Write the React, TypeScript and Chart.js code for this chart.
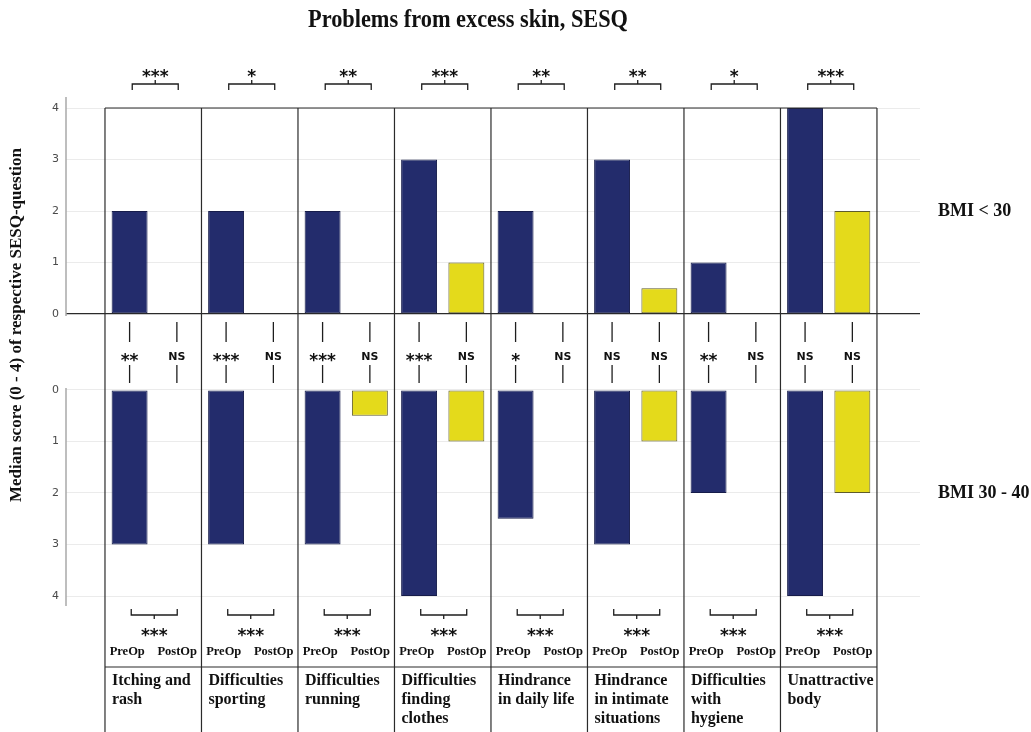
import React, { useEffect, useRef } from "react";
import { Chart, registerables } from "chart.js";

Chart.register(...registerables);

// ---- data ----
const categoryLines: string[][] = [
  ["Itching and", "rash"],
  ["Difficulties", "sporting"],
  ["Difficulties", "running"],
  ["Difficulties", "finding", "clothes"],
  ["Hindrance", "in daily life"],
  ["Hindrance", "in intimate", "situations"],
  ["Difficulties", "with", "hygiene"],
  ["Unattractive", "body"],
];
const preOpBmiUnder30 = [2, 2, 2, 3, 2, 3, 1, 4];
const postOpBmiUnder30 = [0, 0, 0, 1, 0, 0.5, 0, 2];
const preOpBmi30to40 = [3, 3, 3, 4, 2.5, 3, 2, 4];
const postOpBmi30to40 = [0, 0, 0.5, 1, 0, 1, 0, 2];
const sigPrePostUnder30 = ["***", "*", "**", "***", "**", "**", "*", "***"];
const sigPrePost30to40 = ["***", "***", "***", "***", "***", "***", "***", "***"];
const sigPreOpBetweenGroups = ["**", "***", "***", "***", "*", "NS", "**", "NS"];
const sigPostOpBetweenGroups = ["NS", "NS", "NS", "NS", "NS", "NS", "NS", "NS"];
const scoreTicks = [0, 1, 2, 3, 4];
const panelLabels = ["BMI < 30", "BMI 30 - 40"];
const groupLabels = ["PreOp", "PostOp"];
const chartTitle = "Problems from excess skin, SESQ";
const yAxisTitle = "Median score (0 - 4) of respective SESQ-question";

// ---- look ----
const WIDTH = 1031;
const HEIGHT = 732;
const GAP = 0.7375; // score units between each panel's zero line and the shared middle
const X_MIN = -0.904;
const X_MAX = 7.946;
const CAT_PCT = 0.98;
const BAR_PCT = 0.76;
const BAR_OFFSET = CAT_PCT / 4;
const NAVY = "#232c6c";
const NAVY_EDGE = "#161c4a";
const YELLOW = "#e4da1b";
const YELLOW_EDGE = "#5e5b2c";
const SERIF = '"Liberation Serif", "Times New Roman", serif';
const SANS = '"DejaVu Sans", sans-serif';

const toPoints = (vals: number[]) =>
  vals.map((v, i) => ({ x: i, y: v === 0 ? null : v }));

const yScale = (reverse: boolean) => ({
  type: "linear" as const,
  position: "left" as const,
  stack: "panels",
  stackWeight: 1,
  reverse,
  min: -GAP,
  max: 4,
  afterBuildTicks: (s: any) => {
    s.ticks = scoreTicks.map((v) => ({ value: v }));
  },
  afterFit: (s: any) => {
    s.width = 66;
  },
  border: { display: false },
  grid: {
    drawTicks: false,
    lineWidth: (c: any) => (!reverse && c.tick && c.tick.value === 0 ? 1.3 : 1),
    color: (c: any) =>
      !reverse && c.tick && c.tick.value === 0 ? "#2a2a2a" : "#ebebeb",
  },
  ticks: {
    padding: 7,
    color: "#4a4a4a",
    font: { family: SANS, size: 11 },
  },
});

const sesqAnnotations = {
  id: "sesqAnnotations",
  afterDraw(chart: any) {
    const ctx: CanvasRenderingContext2D = chart.ctx;
    const xs = chart.scales.x;
    const yT = chart.scales.yTop;
    const yB = chart.scales.yBot;
    const n = categoryLines.length;
    const colCenter = (i: number) => xs.getPixelForValue(i);
    const colLeft = (i: number) => xs.getPixelForValue(i - 0.5);
    const preX = (i: number) => xs.getPixelForValue(i - BAR_OFFSET);
    const postX = (i: number) => xs.getPixelForValue(i + BAR_OFFSET);
    const yFour = yT.getPixelForValue(4);
    const yTopZero = yT.getPixelForValue(0);
    const yBotZero = yB.getPixelForValue(0);
    const yBotFour = yB.getPixelForValue(4);
    const left = colLeft(0);
    const right = colLeft(n);

    const line = (x1: number, y1: number, x2: number, y2: number) => {
      ctx.beginPath();
      ctx.moveTo(x1, y1);
      ctx.lineTo(x2, y2);
      ctx.stroke();
    };

    ctx.save();

    // value axis lines
    const axisX = chart.chartArea.left;
    ctx.strokeStyle = "#a8a8a8";
    ctx.lineWidth = 1.5;
    line(axisX, yFour - 11, axisX, yTopZero + 2);
    line(axisX, yBotZero - 2, axisX, yBotFour + 10);

    // column frame
    ctx.strokeStyle = "#2b2b2b";
    ctx.lineWidth = 1.2;
    for (let i = 0; i <= n; i++) line(colLeft(i), yFour, colLeft(i), HEIGHT);
    line(left, yFour, right, yFour);
    const footY = yBotFour + 71;
    line(left, footY, right, footY);

    // brackets and significance marks
    ctx.strokeStyle = "#1e1e1e";
    ctx.lineWidth = 1.3;
    ctx.fillStyle = "#111";
    ctx.textAlign = "center";
    ctx.textBaseline = "alphabetic";
    const sigText = (t: string, x: number, centerY: number) => {
      if (t === "NS") {
        ctx.font = `bold 11px ${SANS}`;
        ctx.fillText(t, x, centerY + 4);
      } else {
        ctx.font = `bold 17px ${SANS}`;
        ctx.fillText(t, x, centerY + 9.5);
      }
    };
    for (let i = 0; i < n; i++) {
      const hw = 23;
      // pre vs post, BMI < 30
      const cx = colCenter(i) + 2;
      const yb = yFour - 24;
      ctx.beginPath();
      ctx.moveTo(cx - hw, yb + 6);
      ctx.lineTo(cx - hw, yb);
      ctx.lineTo(cx + hw, yb);
      ctx.lineTo(cx + hw, yb + 6);
      ctx.moveTo(cx, yb);
      ctx.lineTo(cx, yb - 4);
      ctx.stroke();
      sigText(sigPrePostUnder30[i], cx, yb - 12);

      // pre vs post, BMI 30 - 40
      const bx = colCenter(i) + 1;
      const by = yBotFour + 19;
      ctx.beginPath();
      ctx.moveTo(bx - hw, by - 6);
      ctx.lineTo(bx - hw, by);
      ctx.lineTo(bx + hw, by);
      ctx.lineTo(bx + hw, by - 6);
      ctx.moveTo(bx, by);
      ctx.lineTo(bx, by + 4);
      ctx.stroke();
      sigText(sigPrePost30to40[i], bx, by + 16);

      // between BMI groups
      const midY = (yTopZero + yBotZero) / 2 + 4;
      const pairs: [number, string][] = [
        [preX(i), sigPreOpBetweenGroups[i]],
        [postX(i), sigPostOpBetweenGroups[i]],
      ];
      for (const [x, t] of pairs) {
        line(x, yTopZero + 8, x, yTopZero + 28);
        line(x, yBotZero - 25, x, yBotZero - 7);
        sigText(t, x, midY);
      }

      // group labels
      ctx.font = `bold 12.5px ${SERIF}`;
      ctx.fillText(groupLabels[0], colCenter(i) - 26, footY - 12);
      ctx.fillText(groupLabels[1], colCenter(i) + 24, footY - 12);

      // category labels
      ctx.save();
      ctx.textAlign = "left";
      ctx.font = `bold 16px ${SERIF}`;
      categoryLines[i].forEach((s, k) => {
        ctx.fillText(s, colLeft(i) + 7, footY + 18 + k * 19);
      });
      ctx.restore();
    }

    // panel labels
    ctx.textAlign = "left";
    ctx.textBaseline = "middle";
    ctx.font = `bold 18px ${SERIF}`;
    ctx.fillText(panelLabels[0], 938, yT.getPixelForValue(2));
    ctx.fillText(panelLabels[1], 938, yB.getPixelForValue(2));

    // title
    ctx.textAlign = "center";
    ctx.textBaseline = "alphabetic";
    ctx.font = `bold 25px ${SERIF}`;
    const tw = ctx.measureText(chartTitle).width;
    const sx = Math.min(1, 320 / tw);
    ctx.save();
    ctx.translate(468, 27);
    ctx.scale(sx, 1);
    ctx.fillText(chartTitle, 0, 0);
    ctx.restore();

    // value axis title
    ctx.save();
    ctx.translate(21, 325);
    ctx.rotate(-Math.PI / 2);
    ctx.font = `bold 17px ${SERIF}`;
    ctx.fillText(yAxisTitle, 0, 0);
    ctx.restore();

    ctx.restore();
  },
};

export default function App() {
  const canvasRef = useRef<HTMLCanvasElement | null>(null);

  useEffect(() => {
    if (!canvasRef.current) return;
    const barCommon = {
      borderWidth: 1,
      borderSkipped: false as const,
      categoryPercentage: CAT_PCT,
      barPercentage: BAR_PCT,
    };
    const chart = new Chart(canvasRef.current, {
      type: "bar",
      data: {
        datasets: [
          {
            ...barCommon,
            label: `${groupLabels[0]} ${panelLabels[0]}`,
            data: toPoints(preOpBmiUnder30) as any,
            stack: "pre",
            yAxisID: "yTop",
            backgroundColor: NAVY,
            borderColor: NAVY_EDGE,
          },
          {
            ...barCommon,
            label: `${groupLabels[1]} ${panelLabels[0]}`,
            data: toPoints(postOpBmiUnder30) as any,
            stack: "post",
            yAxisID: "yTop",
            backgroundColor: YELLOW,
            borderColor: YELLOW_EDGE,
          },
          {
            ...barCommon,
            label: `${groupLabels[0]} ${panelLabels[1]}`,
            data: toPoints(preOpBmi30to40) as any,
            stack: "pre",
            yAxisID: "yBot",
            backgroundColor: NAVY,
            borderColor: NAVY_EDGE,
          },
          {
            ...barCommon,
            label: `${groupLabels[1]} ${panelLabels[1]}`,
            data: toPoints(postOpBmi30to40) as any,
            stack: "post",
            yAxisID: "yBot",
            backgroundColor: YELLOW,
            borderColor: YELLOW_EDGE,
          },
        ],
      },
      options: {
        responsive: false,
        animation: false,
        devicePixelRatio: 1,
        layout: { padding: { top: 108, right: 111, bottom: 136, left: 0 } },
        plugins: {
          legend: { display: false },
          title: { display: false },
          tooltip: { enabled: false },
        },
        scales: {
          x: {
            type: "linear",
            display: false,
            offset: false,
            min: X_MIN,
            max: X_MAX,
            afterBuildTicks: (s: any) => {
              s.ticks = categoryLines.map((_, i) => ({ value: i }));
            },
          },
          // stacked on the left: listed bottom panel first so it sits below
          yBot: yScale(true),
          yTop: yScale(false),
        } as any,
      },
      plugins: [sesqAnnotations],
    });
    return () => chart.destroy();
  }, []);

  return (
    <div
      style={{
        position: "fixed",
        left: 0,
        top: 0,
        width: WIDTH,
        height: HEIGHT,
        background: "#fff",
      }}
    >
      <canvas ref={canvasRef} width={WIDTH} height={HEIGHT} />
    </div>
  );
}
